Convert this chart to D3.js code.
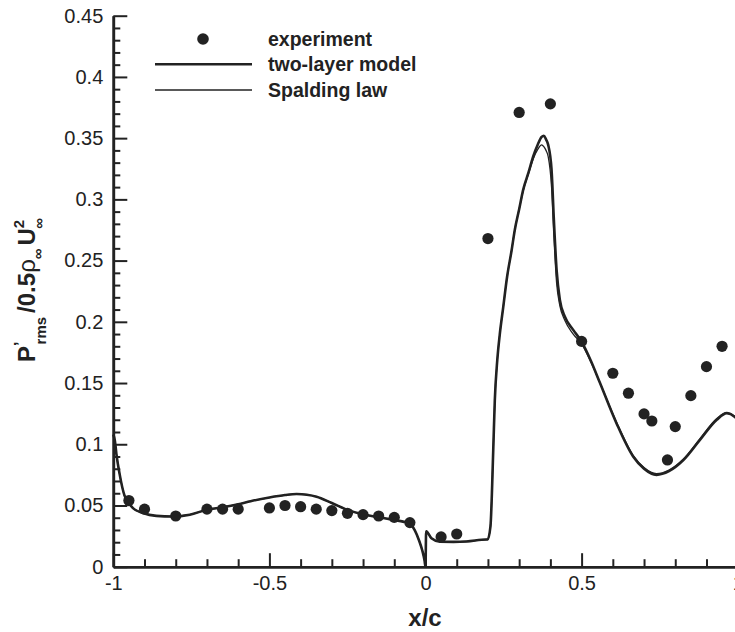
<!DOCTYPE html>
<html>
<head>
<meta charset="utf-8">
<script src="https://cdn.jsdelivr.net/npm/d3@7/dist/d3.min.js"></script>
<style>
  html, body { margin: 0; padding: 0; background: #fff; }
  svg { display: block; }
  text { font-family: "Liberation Sans", Arial, Helvetica, sans-serif; fill: #222; }
</style>
</head>
<body>
<svg id="chart" width="735" height="632"></svg>
<script>
// Experimental RMS pressure fluctuation
const expX = [-0.95, -0.90, -0.80, -0.70, -0.65, -0.60, -0.50, -0.45, -0.40, -0.35, -0.30,
              -0.25, -0.20, -0.15, -0.10, -0.05, 0.05, 0.10, 0.20, 0.30, 0.40, 0.50,
              0.60, 0.65, 0.70, 0.725, 0.775, 0.80, 0.85, 0.90, 0.95];
const expY = [0.054, 0.047, 0.0414, 0.047, 0.047, 0.047, 0.048, 0.050, 0.049, 0.047, 0.0458,
              0.0436, 0.0425, 0.0414, 0.0403, 0.036, 0.0243, 0.0267, 0.268, 0.371, 0.378, 0.184,
              0.158, 0.1417, 0.1248, 0.119, 0.0872, 0.1144, 0.1397, 0.1634, 0.180];

// Computed distributions: shared abscissa, one ordinate array per wall treatment
const curveX = [-1.0, -0.995, -0.99, -0.98, -0.964, -0.95, -0.937, -0.905, -0.862, -0.81,
                -0.755, -0.70, -0.65, -0.60, -0.56, -0.50, -0.45, -0.413, -0.38, -0.349,
                -0.30, -0.243, -0.20, -0.136, -0.072, -0.05, -0.035, -0.02, -0.01, -0.003,
                0.0, 0.002, 0.019, 0.046, 0.09, 0.131, 0.195, 0.199, 0.208, 0.217,
                0.222, 0.23, 0.238, 0.249, 0.2615, 0.2756, 0.286, 0.30, 0.313, 0.33,
                0.345, 0.36, 0.372, 0.379, 0.386, 0.393, 0.4038, 0.4112, 0.4199, 0.4304,
                0.4465, 0.4731, 0.50, 0.53, 0.559, 0.612, 0.665, 0.70, 0.74, 0.78,
                0.826, 0.879, 0.933, 0.965, 0.99, 1.0];
const twoLayerY = [0.108, 0.103, 0.092, 0.076, 0.058, 0.052, 0.0478, 0.0438, 0.0415, 0.041,
                   0.0425, 0.0465, 0.0485, 0.051, 0.0535, 0.0565, 0.0585, 0.0594, 0.0588, 0.0572,
                   0.052, 0.0458, 0.0428, 0.0397, 0.0368, 0.0355, 0.030, 0.021, 0.013, 0.005,
                   0.0, 0.029, 0.0232, 0.0204, 0.0203, 0.0206, 0.0222, 0.0222, 0.0327, 0.0953,
                   0.136, 0.169, 0.19, 0.212, 0.237, 0.258, 0.275, 0.292, 0.308, 0.322,
                   0.335, 0.345, 0.351, 0.352, 0.349, 0.3445, 0.3241, 0.2832, 0.2424, 0.2179,
                   0.2042, 0.1934, 0.1838, 0.168, 0.150, 0.117, 0.090, 0.080, 0.075, 0.078,
                   0.087, 0.1035, 0.120, 0.1253, 0.1225, 0.120];
const spaldingY = [0.108, 0.103, 0.092, 0.076, 0.058, 0.052, 0.0478, 0.0438, 0.0415, 0.041,
                   0.0425, 0.0465, 0.0485, 0.051, 0.0535, 0.0565, 0.0585, 0.0594, 0.0588, 0.0572,
                   0.052, 0.0458, 0.0428, 0.0397, 0.0368, 0.0355, 0.030, 0.021, 0.013, 0.005,
                   0.0, 0.029, 0.0232, 0.0204, 0.0203, 0.0206, 0.0222, 0.0222, 0.0327, 0.0953,
                   0.136, 0.169, 0.19, 0.212, 0.237, 0.258, 0.275, 0.292, 0.307, 0.321,
                   0.333, 0.341, 0.3445, 0.343, 0.340, 0.335, 0.310, 0.270, 0.232, 0.213,
                   0.201, 0.190, 0.182, 0.167, 0.150, 0.118, 0.091, 0.081, 0.076, 0.079,
                   0.088, 0.1045, 0.121, 0.126, 0.123, 0.121];

// Axis ticks
const xMajorTicks = [-1, -0.5, 0, 0.5, 1];
const xMinorTicks = [-0.9, -0.8, -0.7, -0.6, -0.4, -0.3, -0.2, -0.1, 0.1, 0.2, 0.3, 0.4, 0.6, 0.7, 0.8, 0.9];
const yMajorTicks = [0, 0.05, 0.1, 0.15, 0.2, 0.25, 0.3, 0.35, 0.4, 0.45];
const yMinorTicks = d3.range(0, 46).map(i => i / 100).filter(v => Math.round(v * 100) % 5 !== 0);

const legendItems = ["experiment", "two-layer model", "Spalding law"];

const svg = d3.select("#chart");
const ink = "#222";

const x = d3.scaleLinear().domain([-1, 1]).range([113.3, 737.7]);
const y = d3.scaleLinear().domain([0, 0.45]).range([566.7, 15.7]);

const fmt = d => String(+d.toFixed(2));

// Bottom axis
const gx = svg.append("g").attr("transform", `translate(0,${y(0)})`);
gx.call(d3.axisBottom(x).tickValues(xMinorTicks).tickSizeInner(-7.5).tickSizeOuter(0).tickFormat(""));
gx.append("g").call(d3.axisBottom(x).tickValues(xMajorTicks).tickSizeInner(-13.5).tickSizeOuter(0)
  .tickPadding(9).tickFormat(fmt));

// Left axis
const gy = svg.append("g").attr("transform", `translate(${x(-1)},0)`);
gy.call(d3.axisLeft(y).tickValues(yMinorTicks).tickSizeInner(-7).tickSizeOuter(0).tickFormat(""));
gy.append("g").call(d3.axisLeft(y).tickValues(yMajorTicks).tickSizeInner(-14).tickSizeOuter(0)
  .tickPadding(10).tickFormat(fmt));

svg.selectAll(".domain").attr("stroke", ink).attr("stroke-width", 2.6);
svg.selectAll(".tick line").attr("stroke", ink).attr("stroke-width", 2);
svg.selectAll(".tick text").attr("font-size", 20).attr("fill", ink)
  .attr("font-family", "'Liberation Sans', Arial, sans-serif");

// Curves
const line = d3.line().x(d => x(d[0])).y(d => y(d[1])).curve(d3.curveMonotoneX);
const twoLayer = curveX.map((v, i) => [v, twoLayerY[i]]);
const spalding = curveX.map((v, i) => [v, spaldingY[i]]);

svg.append("path").datum(twoLayer).attr("d", line)
  .attr("fill", "none").attr("stroke", ink).attr("stroke-width", 2.6).attr("stroke-linejoin", "round");
svg.append("path").datum(spalding).attr("d", line)
  .attr("fill", "none").attr("stroke", ink).attr("stroke-width", 1.3).attr("stroke-linejoin", "round");

// Experimental points
svg.append("g").selectAll("circle").data(expX.map((v, i) => [v, expY[i]])).join("circle")
  .attr("cx", d => x(d[0])).attr("cy", d => y(d[1])).attr("r", 5.6).attr("fill", ink);

// Legend
const lg = svg.append("g");
lg.append("circle").attr("cx", 203).attr("cy", 39).attr("r", 5.8).attr("fill", ink);
lg.append("line").attr("x1", 155).attr("x2", 252).attr("y1", 64.3).attr("y2", 64.3)
  .attr("stroke", ink).attr("stroke-width", 2.6);
lg.append("line").attr("x1", 155).attr("x2", 252).attr("y1", 90).attr("y2", 90)
  .attr("stroke", ink).attr("stroke-width", 1.3);
lg.selectAll("text").data(legendItems).join("text")
  .attr("x", 268).attr("y", (d, i) => [45.5, 71, 96.5][i])
  .attr("font-size", 19.5).attr("font-weight", "bold").text(d => d);

// Axis titles
svg.append("text").attr("x", 425).attr("y", 626).attr("text-anchor", "middle")
  .attr("font-size", 24).attr("font-weight", "bold").text("x/c");

const yt = svg.append("text").attr("transform", "translate(35,290) rotate(-90)")
  .attr("text-anchor", "middle").attr("font-size", 24).attr("font-weight", "bold");
yt.append("tspan").text("P");
yt.append("tspan").attr("font-size", 16).attr("dy", -9).text("’");
yt.append("tspan").attr("font-size", 15).attr("dx", -3).attr("dy", 20).text("rms");
yt.append("tspan").attr("dx", 4).attr("dy", -11).text("/0.5");
yt.append("tspan").attr("font-weight", "normal").text("ρ");
yt.append("tspan").attr("font-size", 15).attr("dy", 8).text("∞");
yt.append("tspan").attr("dx", 3).attr("dy", -8).text("U");
yt.append("tspan").attr("font-size", 15).attr("dy", -11).text("2");
yt.append("tspan").attr("font-size", 15).attr("dx", -9).attr("dy", 20).text("∞");
</script>
</body>
</html>
